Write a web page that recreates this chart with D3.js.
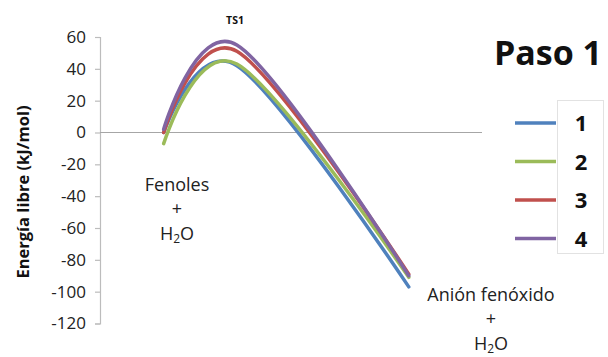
<!DOCTYPE html>
<html>
<head>
<meta charset="utf-8">
<script src="https://cdn.jsdelivr.net/npm/d3@7/dist/d3.min.js"></script>
<style>
  html, body { margin: 0; padding: 0; background: #fff; }
  svg { display: block; }
  text { font-family: "Open Sans", Lato, "Liberation Sans", sans-serif; }
</style>
</head>
<body>
<svg id="chart" width="608" height="357"></svg>
<script>
// Reaction coordinate of each stationary point (reactants, TS1, products)
const stages = ["Fenoles", "TS1", "Anión fenóxido"];
const stageCoord = [1, 2.15, 4.85];

// Free energy (kJ/mol) of each system along the path
const seriesNames = ["1", "2", "3", "4"];
const energy1 = [0, 42, -97];
const energy2 = [-7, 43, -91];
const energy3 = [0, 51, -89];
const energy4 = [2, 55, -90];
const seriesColors = ["#4F81BD", "#9BBB59", "#C0504D", "#8064A2"];

const yTicks = [60, 40, 20, 0, -20, -40, -60, -80, -100, -120];

const svg = d3.select("#chart");

const x = d3.scaleLinear().domain([0, 6]).range([100, 482]);
const y = d3.scaleLinear().domain([-120, 60]).range([323.5, 37]);

// y axis
const yAxis = d3.axisLeft(y).tickValues(yTicks).tickSize(5).tickPadding(9)
  .tickFormat(d => d < 0 ? "-" + Math.abs(d) : d);
const gy = svg.append("g").attr("transform", `translate(${x(0)},0)`).call(yAxis);
gy.select(".domain").attr("stroke", "#bcbcbc").attr("stroke-width", 1.2);
gy.selectAll(".tick line").attr("stroke", "#bcbcbc").attr("stroke-width", 1.2);
gy.selectAll(".tick text").attr("font-size", 17).attr("fill", "#222")
  .attr("font-family", "'Open Sans', Lato, sans-serif");

// horizontal axis at zero
svg.append("line")
  .attr("x1", x(0)).attr("x2", x(6))
  .attr("y1", y(0)).attr("y2", y(0))
  .attr("stroke", "#a6a6a6").attr("stroke-width", 1.2);

// y axis title
svg.append("text")
  .attr("transform", `translate(29,192) rotate(-90)`)
  .attr("text-anchor", "middle")
  .attr("font-size", 16.5).attr("font-weight", "bold").attr("fill", "#111")
  .text("Energía libre (kJ/mol)");

// energy profiles
const allSeries = [energy1, energy2, energy3, energy4];
const line = d3.line()
  .x((d, i) => x(stageCoord[i]))
  .y(d => y(d))
  .curve(d3.curveCardinal.tension(0));

svg.append("g").selectAll("path")
  .data(allSeries)
  .join("path")
  .attr("d", d => line(d))
  .attr("fill", "none")
  .attr("stroke", (d, i) => seriesColors[i])
  .attr("stroke-width", 3.5)
  .attr("stroke-linecap", "round");

// stage labels
svg.append("text")
  .attr("x", 235).attr("y", 24)
  .attr("text-anchor", "middle")
  .attr("font-size", 10.5).attr("font-weight", "bold").attr("fill", "#111")
  .text(stages[1]);

function stackLabel(cx, baseY, name) {
  const g = svg.append("g").attr("fill", "#222").attr("font-size", 18).attr("text-anchor", "middle");
  g.append("text").attr("x", cx).attr("y", baseY).text(name);
  g.append("text").attr("x", cx).attr("y", baseY + 24).text("+");
  const t = g.append("text").attr("x", cx).attr("y", baseY + 49);
  t.append("tspan").text("H");
  t.append("tspan").attr("font-size", 12).attr("dy", 3).text("2");
  t.append("tspan").attr("dy", -3).text("O");
}
stackLabel(177, 191, stages[0]);
stackLabel(491, 301, stages[2]);

// title
svg.append("text")
  .attr("x", 548).attr("y", 65)
  .attr("text-anchor", "middle")
  .attr("font-size", 34).attr("font-weight", "bold").attr("fill", "#111")
  .text("Paso 1");

// legend
const legend = svg.append("g");
legend.append("rect")
  .attr("x", 557.5).attr("y", 100.5).attr("width", 46).attr("height", 153)
  .attr("fill", "#fff").attr("stroke", "#e2e2e2");
const rows = legend.selectAll("g.row")
  .data(seriesNames)
  .join("g").attr("class", "row")
  .attr("transform", (d, i) => `translate(0,${123 + i * 38.5})`);
rows.append("line")
  .attr("x1", 515).attr("x2", 556)
  .attr("stroke", (d, i) => seriesColors[i])
  .attr("stroke-width", 3.5);
rows.append("text")
  .attr("x", 581).attr("y", 8)
  .attr("text-anchor", "middle")
  .attr("font-size", 22).attr("font-weight", "bold").attr("fill", "#111")
  .text(d => d);
</script>
</body>
</html>
